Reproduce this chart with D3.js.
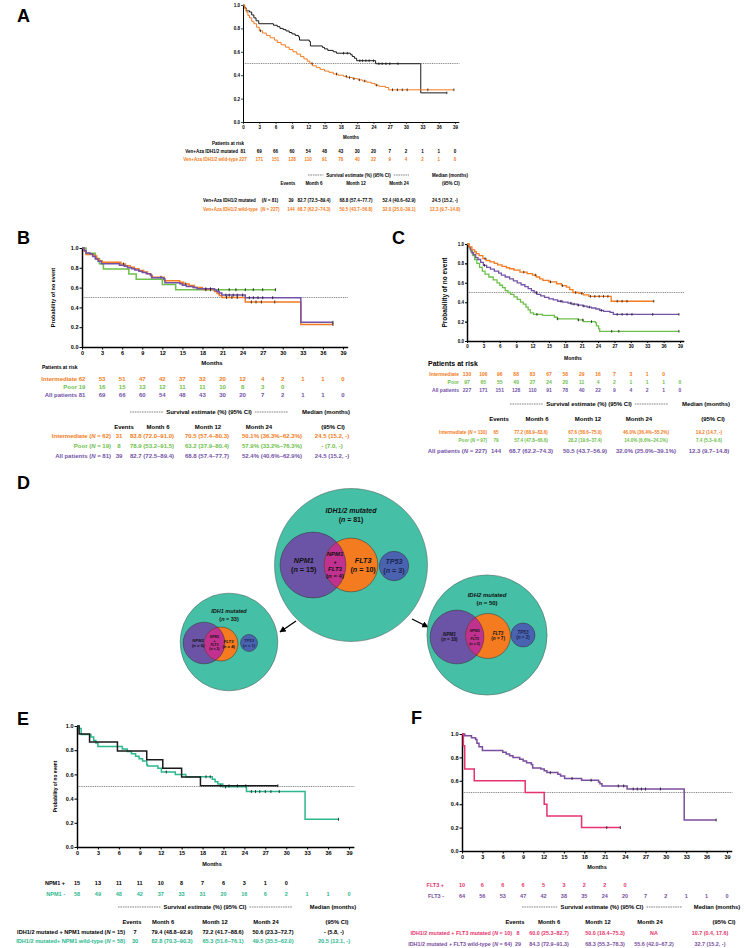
<!DOCTYPE html>
<html>
<head>
<meta charset="utf-8">
<script src="https://cdn.jsdelivr.net/npm/d3@7"></script>
<style>
body { margin: 0; background: #fff; }
svg { display: block; font-family: "Liberation Sans", Arial, Helvetica, sans-serif; }
</style>
</head>
<body>
<svg id="fig" width="745" height="948"></svg>
<script>
// ---- data ----
var monthTicks = [0, 3, 6, 9, 12, 15, 18, 21, 24, 27, 30, 33, 36, 39];
var probTicks = [0, 0.2, 0.4, 0.6, 0.8, 1.0];

// KM steps [month, survival]
// IDH1/2 mutated, all patients (N = 81): A black, B purple
var mutAll = [[0,1],[0.3,0.975],[0.6,0.95],[1.2,0.94],[1.6,0.915],[2.0,0.89],[2.4,0.865],[2.9,0.84],
  [5.6,0.827],[6.3,0.815],[6.8,0.80],[7.4,0.79],[7.9,0.778],[8.5,0.765],[9.0,0.753],[9.6,0.74],
  [10.2,0.728],[10.4,0.70],[12.2,0.688],[12.4,0.65],[14.6,0.638],[15.0,0.625],[15.6,0.612],[16.6,0.60],
  [17.2,0.588],[19.8,0.575],[20.1,0.56],[20.5,0.545],[20.9,0.524],[24.4,0.498],[32.7,0.249],[37.5,0.249]];
var mutAllCens = [18.5, 19.2, 21.5, 22, 22.6, 23.2, 24, 25, 25.6, 26.3, 27, 28.5, 37.5];
// IDH1/2 wild-type, all patients (N = 227): A orange, C purple
var wtAll = [[0,1],[0.3,0.97],[0.6,0.94],[0.9,0.91],[1.2,0.89],[1.6,0.86],[2.0,0.84],[2.5,0.81],[3.0,0.78],
  [3.6,0.76],[4.3,0.74],[5.0,0.72],[5.8,0.70],[6.3,0.68],[7.0,0.66],[7.8,0.64],[8.5,0.62],[9.2,0.60],
  [9.9,0.58],[10.6,0.56],[11.2,0.54],[11.8,0.52],[12.3,0.50],[12.8,0.48],[13.5,0.465],[14.2,0.45],
  [15.0,0.435],[15.8,0.425],[16.6,0.41],[17.5,0.40],[18.5,0.39],[19.2,0.38],[20.2,0.37],[21.2,0.36],
  [22.0,0.35],[22.8,0.34],[23.6,0.33],[24.3,0.315],[25.0,0.305],[26.2,0.295],[26.8,0.275],[38.8,0.275]];
var wtAllCens = [3.2, 12.7, 17.2, 19, 19.6, 20.4, 21.4, 22.4, 24.6, 27.5, 28.4, 29.3, 30.2, 34, 38.8];

var bInter = [[0,1],[0.3,0.968],[0.6,0.935],[1.8,0.92],[2.2,0.89],[2.6,0.87],[3.0,0.855],[5.8,0.838],
  [6.5,0.82],[7.2,0.805],[7.8,0.79],[8.5,0.773],[9.2,0.757],[9.8,0.74],[10.3,0.72],[10.5,0.705],
  [12.3,0.67],[14.6,0.655],[15.2,0.637],[16.0,0.62],[16.8,0.60],[18.0,0.58],[19.8,0.56],[20.2,0.54],
  [20.5,0.52],[20.9,0.501],[24.4,0.455],[32.7,0.228],[37.5,0.228]];
var bInterCens = [6.2, 11.8, 15.5, 18.5, 21.6, 22.4, 23.2, 25.3, 26, 26.8, 28.8, 37.5];
var bPoor = [[0,1],[0.6,0.947],[2.0,0.895],[2.6,0.842],[3.2,0.789],[7.0,0.737],[8.1,0.684],
  [12.0,0.632],[14.0,0.579],[28.9,0.579]];
var bPoorCens = [19.2, 20.4, 22, 23, 24.4, 25.6, 27, 28.9];

var cInter = [[0,1],[0.4,0.97],[0.9,0.94],[1.4,0.92],[1.7,0.90],[2.2,0.88],[2.9,0.85],[3.5,0.83],
  [4.2,0.815],[5.0,0.80],[5.6,0.785],[6.4,0.77],[7.2,0.755],[7.8,0.745],[8.6,0.73],[9.7,0.71],
  [11.0,0.695],[12.0,0.68],[12.7,0.66],[13.3,0.64],[13.9,0.625],[15.0,0.61],[16.4,0.59],[17.3,0.57],
  [18.2,0.555],[18.8,0.53],[19.4,0.50],[20.5,0.49],[21.3,0.475],[22.3,0.46],[26.4,0.41],[34.2,0.41]];
var cInterCens = [3.3, 10.4, 12.5, 15.3, 17.5, 19.9, 21, 22.6, 23.4, 24.2, 25, 25.8, 27.5, 28.4, 29.3, 34.2];
var cPoor = [[0,1],[0.3,0.96],[0.7,0.92],[1.0,0.88],[1.4,0.84],[1.8,0.80],[2.3,0.76],[2.8,0.72],
  [3.3,0.69],[4.0,0.66],[4.8,0.63],[5.5,0.60],[6.0,0.575],[6.5,0.55],[7.0,0.52],[7.5,0.50],[8.0,0.48],
  [8.6,0.455],[9.2,0.43],[9.8,0.40],[10.3,0.38],[10.8,0.35],[11.2,0.32],[11.6,0.29],[12.2,0.275],
  [13.8,0.265],[16.0,0.245],[16.5,0.228],[20.3,0.217],[21.3,0.20],[23.5,0.19],[23.7,0.155],
  [24.1,0.125],[24.3,0.10],[38.8,0.10]];
var cPoorCens = [12.8, 16.6, 20.4, 21.2, 22.8, 26.5, 27.8, 38.8];

var eNpmPos = [[0,1],[0.3,0.933],[1.8,0.867],[5.8,0.794],[10.0,0.722],[12.3,0.65],[15.0,0.578],
  [17.7,0.506],[28.8,0.506]];
var eNpmPosCens = [20.6, 21.8, 23, 24.2, 28.8];
var eNpmNeg = [[0,1],[0.3,0.98],[0.6,0.93],[2.0,0.91],[2.4,0.88],[2.7,0.86],[3.0,0.83],[6.5,0.81],
  [7.2,0.79],[7.8,0.77],[8.4,0.75],[8.9,0.73],[9.4,0.71],[10.0,0.68],[10.1,0.67],[11.6,0.65],
  [12.1,0.62],[14.1,0.60],[15.6,0.58],[19.4,0.56],[19.8,0.54],[20.2,0.52],[20.9,0.497],[24.3,0.458],
  [32.7,0.229],[37.5,0.229]];
var eNpmNegCens = [12.8, 18.5, 19.1, 21.3, 25, 25.6, 26.2, 27, 27.8, 29, 37.5];

var fFltPos = [[0,1],[0.2,0.9],[0.4,0.7],[1.8,0.6],[9.3,0.5],[12.1,0.4],[12.5,0.3],[17.6,0.2],[23.3,0.2]];
var fFltPosCens = [21.3, 23.3];
var fFltNeg = [[0,1],[0.4,0.984],[1.4,0.969],[2.0,0.953],[2.2,0.922],[2.5,0.89],[3.0,0.86],[6.0,0.845],
  [6.5,0.83],[7.0,0.815],[7.5,0.80],[8.5,0.785],[9.0,0.77],[9.5,0.755],[10.2,0.74],[10.4,0.71],
  [11.6,0.70],[12.1,0.685],[12.5,0.67],[14.1,0.655],[14.5,0.64],[15.1,0.62],[17.6,0.605],[20.1,0.59],
  [20.3,0.575],[20.6,0.556],[24.3,0.53],[32.7,0.265],[37.4,0.265]];
var fFltNegCens = [13, 16.2, 19, 23, 23.8, 25.2, 25.8, 26.4, 27, 29.2, 37.4];

// patients at risk
var riskMut = [81, 69, 66, 60, 54, 48, 43, 30, 20, 7, 2, 1, 1, 0];
var riskWt = [227, 171, 151, 128, 110, 91, 78, 40, 22, 9, 4, 2, 1, 0];
var riskBInter = [62, 53, 51, 47, 42, 37, 32, 20, 12, 4, 2, 1, 1, 0];
var riskBPoor = [19, 16, 15, 13, 12, 11, 11, 10, 8, 3, 0];
var riskCInter = [130, 106, 96, 88, 83, 67, 58, 29, 16, 7, 3, 1, 0];
var riskCPoor = [97, 65, 55, 40, 27, 24, 20, 11, 4, 2, 1, 1, 1, 0];
var riskNpmPos = [15, 13, 11, 11, 10, 8, 7, 6, 3, 1, 0];
var riskNpmNeg = [58, 49, 48, 42, 37, 33, 31, 20, 16, 6, 2, 1, 1, 0];
var riskFltPos = [10, 6, 6, 6, 5, 3, 2, 2, 0];
var riskFltNeg = [64, 56, 53, 47, 42, 38, 35, 24, 20, 7, 2, 1, 1, 0];

// survival tables: events, month 6, month 12, month 24, median
var colHeads = ["Events", "Month 6", "Month 12", "Month 24"];
var survA_mut = ["(_N_ = 81)", "39", "82.7 (72.5–89.4)", "68.8 (57.4–77.7)", "52.4 (40.6–62.9)", "24.5 (15.2, -)"];
var survA_wt = ["(_N_ = 227)", "144", "68.7 (62.2–74.3)", "50.5 (43.7–56.8)", "32.0 (25.0–39.1)", "12.3 (9.7–14.8)"];
var survB_int = ["31", "83.8 (72.0–91.0)", "70.5 (57.4–80.3)", "50.1% (36.3%–62.3%)", "24.5 (15.2, -)"];
var survB_poor = ["8", "78.9 (53.2–91.5)", "63.2 (37.9–80.4)", "57.9% (33.2%–76.3%)", "- (7.0, -)"];
var survB_all = ["39", "82.7 (72.5–89.4)", "68.8 (57.4–77.7)", "52.4% (40.6%–62.9%)", "24.5 (15.2, -)"];
var survC_int = ["65", "77.2 (68.9–83.6)", "67.6 (58.6–75.0)", "46.0% (36.4%–55.2%)", "19.2 (14.7, -)"];
var survC_poor = ["79", "57.4 (47.8–66.6)", "28.2 (19.6–37.4)", "14.0% (6.6%–24.1%)", "7.4 (5.3–9.6)"];
var survC_all = ["144", "68.7 (62.2–74.3)", "50.5 (43.7–56.9)", "32.0% (25.0%–39.1%)", "12.3 (9.7–14.8)"];
var survE_pos = ["7", "79.4 (48.8–92.9)", "72.2 (41.7–88.6)", "50.6 (23.3–72.7)", "- (5.8, -)"];
var survE_neg = ["30", "82.8 (70.3–90.3)", "65.3 (51.6–76.1)", "49.5 (35.5–62.0)", "20.5 (12.1, -)"];
var survF_pos = ["8", "60.0 (25.3–82.7)", "50.0 (18.4–75.3)", "NA", "10.7 (0.4, 17.6)"];
var survF_neg = ["29", "84.3 (72.9–91.3)", "68.3 (55.3–78.3)", "55.6 (42.0–67.2)", "32.7 (15.2, -)"];

// panel D counts
var idhGroups = ["IDH1/2 mutated", "IDH1 mutated", "IDH2 mutated"];
var idhN = [81, 33, 50];
var npm1N = [15, 6, 10];
var flt3N = [10, 4, 7];
var bothN = [4, 2, 2];
var tp53N = [3, 1, 2];

// ---- colours ----
var cOrange = "#F47B20", cGreen = "#6DC04B", cPurple = "#7352A8", cBlack = "#1a1a1a";
var cTeal = "#2DB78F", cPink = "#E6336D", cViolet = "#7A4E9F";

var svg = d3.select("#fig");

// text helper, parts between underscores are italic
function txt(g, x, y, str, o) {
  o = o || {};
  var t = g.append("text").attr("x", x).attr("y", y).attr("dy", "0.35em")
    .attr("text-anchor", o.anchor || "middle")
    .attr("font-size", o.size || 6)
    .attr("font-weight", o.weight || "bold")
    .attr("fill", o.color || "#000");
  if (o.italic) t.attr("font-style", "italic");
  String(str).split("_").forEach(function(p, i) {
    if (p === "") return;
    t.append("tspan").text(p).attr("font-style", i % 2 ? "italic" : null);
  });
  return t;
}

function survAt(data, t) {
  var s = 1;
  for (var i = 0; i < data.length; i++) {
    if (data[i][0] <= t) s = data[i][1]; else break;
  }
  return s;
}

// "----- Survival estimate (%) (95% CI) -----"
function survHeader(g, x1, x2, y, size) {
  var t = txt(g, (x1 + x2) / 2, y, "Survival estimate (%) (95% CI)", {size: size});
  var w = t.node().getComputedTextLength();
  [[x1, (x1 + x2) / 2 - w / 2 - 3], [(x1 + x2) / 2 + w / 2 + 3, x2]].forEach(function(s) {
    g.append("line").attr("x1", s[0]).attr("x2", s[1]).attr("y1", y).attr("y2", y)
      .attr("stroke", "#333").attr("stroke-width", 0.6).attr("stroke-dasharray", "1.6,0.8");
  });
}

function kmPanel(p) {
  var g = svg.append("g");
  var xEnd = p.x0 + (p.x39 - p.x0) * 39.7 / 39;
  var x = d3.scaleLinear().domain([0, 39.7]).range([p.x0, xEnd]);
  var y = d3.scaleLinear().domain([0, 1]).range([p.yBot, p.yTop]);

  g.append("line").attr("x1", x(0)).attr("x2", x(39.8)).attr("y1", y(0.5)).attr("y2", y(0.5))
    .attr("stroke", "#666").attr("stroke-width", 0.8).attr("stroke-dasharray", "1,0.8");

  var xa = g.append("g").attr("transform", "translate(0," + y(0) + ")")
    .call(d3.axisBottom(x).tickValues(monthTicks).tickFormat(d3.format("d"))
      .tickSize(p.tickLen).tickSizeOuter(0).tickPadding(1.5));
  var ya = g.append("g").attr("transform", "translate(" + x(0) + ",0)")
    .call(d3.axisLeft(y).tickValues(probTicks).tickFormat(d3.format(".1f"))
      .tickSize(p.tickLen).tickSizeOuter(0).tickPadding(1));
  [xa, ya].forEach(function(a) {
    a.attr("font-family", null).attr("font-size", p.tick).attr("font-weight", "bold");
    a.select(".domain").attr("stroke-width", p.axisW).attr("stroke", "#000");
    a.selectAll(".tick line").attr("stroke-width", p.axisW * 0.7);
  });
  txt(g, p.months[0], p.months[1], "Months", {size: p.months[2]});
  if (p.ylab) {
    txt(g, 0, 0, "Probability of no event", {size: p.ylab[1]})
      .attr("transform", "translate(" + p.ylab[0] + "," + (p.yTop + p.yBot) / 2 + ") rotate(-90)");
  }

  var line = d3.line().x(function(d) { return x(d[0]); }).y(function(d) { return y(d[1]); })
    .curve(d3.curveStepAfter);
  p.curves.forEach(function(c) {
    g.append("path").datum(c.data).attr("d", line).attr("fill", "none")
      .attr("stroke", c.color).attr("stroke-width", p.lw);
    g.selectAll(null).data(c.cens).join("line")
      .attr("x1", function(t) { return x(t); }).attr("x2", function(t) { return x(t); })
      .attr("y1", function(t) { return y(survAt(c.data, t)) - p.cH; })
      .attr("y2", function(t) { return y(survAt(c.data, t)) + p.cH; })
      .attr("stroke", "#111").attr("stroke-width", 0.8);
  });

  if (p.riskTitle) txt(g, p.riskTitle[0], p.riskTitle[1], "Patients at risk",
    {size: p.riskTitle[2], anchor: "start"});
  p.risk.forEach(function(r) {
    txt(g, p.riskLabelX, r.y, r.label, {anchor: "end", size: r.size, color: r.color});
    r.vals.forEach(function(v, i) {
      txt(g, x(monthTicks[i]), r.y, v, {size: r.size, color: r.color});
    });
  });

  var h = p.head;
  survHeader(g, h.x1, h.x2, h.y, h.size);
  txt(g, h.medX, h.y, "Median (months)", {size: h.size});
  colHeads.forEach(function(c, i) { txt(g, h.colX[i], h.colY, c, {size: h.size}); });
  txt(g, h.ciX, h.colY, "(95% CI)", {size: h.size});

  p.rows.forEach(function(r) {
    txt(g, p.rowLabelX, r.y, r.label, {anchor: p.rowAnchor || "end", size: r.size, color: r.color});
    r.cells.forEach(function(c, i) {
      txt(g, p.cellX[i], r.y, c, {size: r.size, color: r.color});
    });
  });
}

// ---- panel A ----
kmPanel({
  x0: 243, x39: 455, yTop: 5, yBot: 122, tick: 4.5, tickLen: 2, axisW: 1, lw: 1, cH: 1.3,
  months: [351, 137, 4.5], ylab: null,
  curves: [{data: mutAll, cens: mutAllCens, color: cBlack},
           {data: wtAll, cens: wtAllCens, color: cOrange}],
  riskTitle: [212, 143, 4.5], riskLabelX: 238,
  risk: [{label: "Ven+Aza IDH1/2 mutated", vals: riskMut, color: "#000", y: 151, size: 4.5},
         {label: "Ven+Aza IDH1/2 wild-type", vals: riskWt, color: cOrange, y: 159, size: 4.5}],
  head: {x1: 308, x2: 409, y: 175, size: 4.5, medX: 450, colY: 183, colX: [288, 314, 356, 399], ciX: 451},
  rowLabelX: 203, rowAnchor: "start", cellX: [270, 291, 314, 356, 399, 445],
  rows: [{label: "Ven+Aza IDH1/2 mutated", cells: survA_mut, color: "#000", y: 200, size: 4.5},
         {label: "Ven+Aza IDH1/2 wild-type", cells: survA_wt, color: cOrange, y: 209, size: 4.5}]
});

// ---- panel B ----
kmPanel({
  x0: 82, x39: 343, yTop: 248, yBot: 347, tick: 5.5, tickLen: 2.5, axisW: 1.5, lw: 1.5, cH: 1.5,
  months: [212, 363, 6], ylab: [53, 5.5],
  curves: [{data: bPoor, cens: bPoorCens, color: cGreen},
           {data: bInter, cens: bInterCens, color: cOrange},
           {data: mutAll, cens: mutAllCens, color: cPurple}],
  riskTitle: [42, 367, 5], riskLabelX: 77,
  risk: [{label: "Intermediate", vals: riskBInter, color: cOrange, y: 379, size: 6},
         {label: "Poor", vals: riskBPoor, color: cGreen, y: 387, size: 6},
         {label: "All patients", vals: riskMut, color: cPurple, y: 395, size: 6}],
  head: {x1: 130, x2: 288, y: 412, size: 6, medX: 326, colY: 427, colX: [124, 158, 208, 259], ciX: 333},
  rowLabelX: 111, cellX: [119, 152, 207, 272, 332],
  rows: [{label: "Intermediate (_N_ = 62)", cells: survB_int, color: cOrange, y: 436, size: 6},
         {label: "Poor (_N_ = 19)", cells: survB_poor, color: cGreen, y: 446, size: 6},
         {label: "All patients (_N_ = 81)", cells: survB_all, color: cPurple, y: 456, size: 6}]
});

// ---- panel C ----
kmPanel({
  x0: 467, x39: 680, yTop: 244, yBot: 341, tick: 4.5, tickLen: 2, axisW: 1.5, lw: 1.3, cH: 1.3,
  months: [573, 358, 5], ylab: [445, 6.5],
  curves: [{data: cPoor, cens: cPoorCens, color: cGreen},
           {data: wtAll, cens: wtAllCens, color: cPurple},
           {data: cInter, cens: cInterCens, color: cOrange}],
  riskTitle: [428, 364, 7], riskLabelX: 459,
  risk: [{label: "Intermediate", vals: riskCInter, color: cOrange, y: 374, size: 5},
         {label: "Poor", vals: riskCPoor, color: cGreen, y: 382, size: 5},
         {label: "All patients", vals: riskWt, color: cPurple, y: 390, size: 5}],
  head: {x1: 510, x2: 668, y: 404, size: 6, medX: 706, colY: 419, colX: [499, 537, 588, 639], ciX: 713},
  rowLabelX: 487, cellX: [496, 531, 585, 646, 709],
  rows: [{label: "Intermediate (_N_ = 130)", cells: survC_int, color: cOrange, y: 432, size: 4.6},
         {label: "Poor (_N_ = 97)", cells: survC_poor, color: cGreen, y: 440, size: 4.6},
         {label: "All patients (_N_ = 227)", cells: survC_all, color: cPurple, y: 451, size: 6}]
});

// ---- panel E ----
kmPanel({
  x0: 77, x39: 349, yTop: 726, yBot: 847, tick: 5.5, tickLen: 2.5, axisW: 1.5, lw: 1.5, cH: 1.5,
  months: [212, 864, 5.5], ylab: [55, 4.8],
  curves: [{data: eNpmNeg, cens: eNpmNegCens, color: cTeal},
           {data: eNpmPos, cens: eNpmPosCens, color: cBlack}],
  riskTitle: null, riskLabelX: 65,
  risk: [{label: "NPM1 +", vals: riskNpmPos, color: "#000", y: 883, size: 5.5},
         {label: "NPM1 -", vals: riskNpmNeg, color: cTeal, y: 894, size: 5.5}],
  head: {x1: 118, x2: 292, y: 907, size: 5.8, medX: 333, colY: 922, colX: [132, 163, 215, 266], ciX: 337},
  rowLabelX: 125, cellX: [135, 172, 223, 273, 334],
  rows: [{label: "IDH1/2 mutated + NPM1 mutated (_N_ = 15)", cells: survE_pos, color: "#000", y: 932, size: 5.6},
         {label: "IDH1/2 mutated+ NPM1 wild-type (_N_ = 58)", cells: survE_neg, color: cTeal, y: 941, size: 5.6}]
});

// ---- panel F ----
kmPanel({
  x0: 462, x39: 727, yTop: 734, yBot: 851, tick: 5.5, tickLen: 2.5, axisW: 1.5, lw: 1.5, cH: 1.5,
  months: [597, 867, 5.5], ylab: null,
  curves: [{data: fFltNeg, cens: fFltNegCens, color: cViolet},
           {data: fFltPos, cens: fFltPosCens, color: cPink}],
  riskTitle: null, riskLabelX: 444,
  risk: [{label: "FLT3 +", vals: riskFltPos, color: cPink, y: 885, size: 5.5},
         {label: "FLT3 -", vals: riskFltNeg, color: cViolet, y: 896, size: 5.5}],
  head: {x1: 522, x2: 682, y: 907, size: 5.8, medX: 717, colY: 922, colX: [515, 549, 598, 650], ciX: 724},
  rowLabelX: 512, cellX: [518, 549, 605, 654, 710],
  rows: [{label: "IDH1/2 mutated + FLT3 mutated (_N_ = 10)", cells: survF_pos, color: cPink, y: 933, size: 5.4},
         {label: "IDH1/2 mutated + FLT3 wild-type (_N_ = 64)", cells: survF_neg, color: cViolet, y: 944, size: 5.4}]
});

// ---- panel D: nested circles ----
var r = d3.scaleSqrt().domain([0, 81]).range([0, 76.5]);
var dLayout = [
  {outer: [351, 565], npm: [313, 565], flt: [351, 565], tp: [394, 566], title: [511, 520], fs: 7, fsIn: 7.2, fsBoth: 6},
  {outer: [229, 642], npm: [204, 643], flt: [221, 644], tp: [249, 643], title: [611, 619], fs: 5.5, fsIn: 4.2, fsBoth: 3.4},
  {outer: [487, 635], npm: [457, 637], flt: [488, 636], tp: [523, 635], title: [595, 603], fs: 6, fsIn: 4.6, fsBoth: 3.6}
];
var defs = svg.append("defs");
defs.append("marker").attr("id", "arr").attr("viewBox", "0 0 10 10").attr("refX", 9).attr("refY", 5)
  .attr("markerWidth", 5).attr("markerHeight", 5).attr("orient", "auto")
  .append("path").attr("d", "M0,0L10,5L0,10z").attr("fill", "#000");

var dg = svg.append("g");
[[296, 621, 280, 632], [412, 619, 428, 627]].forEach(function(a) {
  dg.append("line").attr("x1", a[0]).attr("y1", a[1]).attr("x2", a[2]).attr("y2", a[3])
    .attr("stroke", "#000").attr("stroke-width", 1.3).attr("marker-end", "url(#arr)");
});

idhGroups.forEach(function(name, i) {
  var L = dLayout[i];
  var g = dg.append("g");
  g.append("circle").attr("cx", L.outer[0]).attr("cy", L.outer[1]).attr("r", r(idhN[i]))
    .attr("fill", "#45BFA5").attr("stroke", "#555").attr("stroke-width", 0.5);
  defs.append("clipPath").attr("id", "npmclip" + i).append("circle")
    .attr("cx", L.npm[0]).attr("cy", L.npm[1]).attr("r", r(npm1N[i]));
  g.append("circle").attr("cx", L.npm[0]).attr("cy", L.npm[1]).attr("r", r(npm1N[i]))
    .attr("fill", "#6B53A6");
  g.append("circle").attr("cx", L.flt[0]).attr("cy", L.flt[1]).attr("r", r(flt3N[i]))
    .attr("fill", cOrange);
  g.append("circle").attr("cx", L.flt[0]).attr("cy", L.flt[1]).attr("r", r(flt3N[i]))
    .attr("fill", "#C1318F").attr("clip-path", "url(#npmclip" + i + ")");
  [[L.npm, npm1N[i]], [L.flt, flt3N[i]]].forEach(function(c) {
    g.append("circle").attr("cx", c[0][0]).attr("cy", c[0][1]).attr("r", r(c[1]))
      .attr("fill", "none").attr("stroke", "#333").attr("stroke-width", 0.5);
  });
  g.append("circle").attr("cx", L.tp[0]).attr("cy", L.tp[1]).attr("r", r(tp53N[i]))
    .attr("fill", "#4A63B1").attr("stroke", "#333").attr("stroke-width", 0.5);

  var cx = L.outer[0];
  txt(g, cx, L.title[0], name, {size: L.fs, italic: true, color: "#111"});
  txt(g, cx, L.title[1], "(_n_ = " + idhN[i] + ")", {size: L.fs, color: "#111"});

  var s = L.fsIn, lh = s * 1.2;
  var npmX = L.npm[0] - r(npm1N[i]) * 0.28;
  txt(g, npmX, L.npm[1] - lh / 2, "NPM1", {size: s, italic: true, color: "#111"});
  txt(g, npmX, L.npm[1] + lh / 2, "(_n_ = " + npm1N[i] + ")", {size: s, color: "#111"});
  var fltX = L.flt[0] + r(flt3N[i]) * 0.45;
  txt(g, fltX, L.flt[1] - lh / 2, "FLT3", {size: s, italic: true, color: "#111"});
  txt(g, fltX, L.flt[1] + lh / 2, "(_n_ = " + flt3N[i] + ")", {size: s, color: "#111"});
  txt(g, L.tp[0], L.tp[1] - lh / 2, "TP53", {size: s, italic: true, color: "#1c2550"});
  txt(g, L.tp[0], L.tp[1] + lh / 2, "(_n_ = " + tp53N[i] + ")", {size: s, color: "#1c2550"});

  // overlap label
  var ox = (L.flt[0] - r(flt3N[i]) + L.npm[0] + r(npm1N[i])) / 2;
  var b = L.fsBoth, bh = b * 1.2;
  ["NPM1", "+", "FLT3", "(_n_ = " + bothN[i] + ")"].forEach(function(t, k) {
    txt(g, ox, L.npm[1] + (k - 1.5) * bh, t, {size: b, italic: k !== 3, color: "#111"});
  });
});

// panel letters
[["A", 17, 22], ["B", 17, 244], ["C", 392, 244], ["D", 17, 489], ["E", 17, 725], ["F", 411, 724]]
  .forEach(function(l) {
    svg.append("text").attr("x", l[1]).attr("y", l[2]).attr("font-size", 18)
      .attr("font-weight", "bold").text(l[0]);
  });
</script>
</body>
</html>
